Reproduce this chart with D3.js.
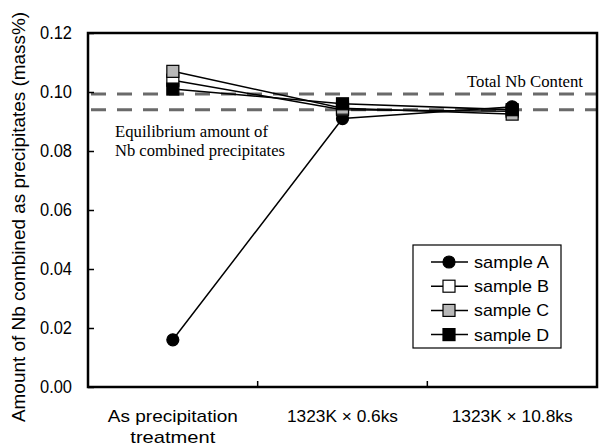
<!DOCTYPE html>
<html><head><meta charset="utf-8">
<script src="https://cdn.jsdelivr.net/npm/d3@7"></script>
<style>body{margin:0;background:#fff}</style>
</head><body>
<svg id="c" width="600" height="448"></svg>
<script>
const categories = ["As precipitation|treatment", "1323K × 0.6ks", "1323K × 10.8ks"];
const sampleA = [0.016, 0.091, 0.095];
const sampleB = [0.104, 0.094, 0.0935];
const sampleC = [0.107, 0.0945, 0.0925];
const sampleD = [0.101, 0.096, 0.094];
const seriesNames = ["sample A", "sample B", "sample C", "sample D"];
const yTicks = [0, 0.02, 0.04, 0.06, 0.08, 0.10, 0.12];
const totalNb = 0.0993;
const equilibriumNb = 0.094;

const series = [
  {name: seriesNames[0], values: sampleA, shape: "circle", fill: "#000"},
  {name: seriesNames[1], values: sampleB, shape: "square", fill: "#fff"},
  {name: seriesNames[2], values: sampleC, shape: "square", fill: "#b8b8b8"},
  {name: seriesNames[3], values: sampleD, shape: "square", fill: "#000"}
];

const sans = "Liberation Sans, Arial, sans-serif";
const serif = "Liberation Serif, Times New Roman, serif";
const svg = d3.select("#c");
const m = {l: 88, r: 597, t: 33, b: 387};
const x = d3.scaleBand().domain(d3.range(categories.length)).range([m.l, m.r]);
const y = d3.scaleLinear().domain([0, 0.12]).range([m.b, m.t]);
const cx = i => x(i) + x.bandwidth() / 2;

// dashed reference lines
[totalNb, equilibriumNb].forEach(v => {
  svg.append("line").attr("x1", m.l + 3).attr("x2", m.r).attr("y1", y(v)).attr("y2", y(v))
    .attr("stroke", "#6a6a6a").attr("stroke-width", 3).attr("stroke-dasharray", "15,11");
});

// y axis
const yAxis = d3.axisLeft(y).tickValues(yTicks).tickFormat(d3.format(".2f")).tickSizeInner(-6).tickSizeOuter(0).tickPadding(16);
const gy = svg.append("g").attr("transform", `translate(${m.l},0)`).call(yAxis);
gy.select(".domain").remove();
gy.selectAll("line").attr("stroke", "#000").attr("stroke-width", 1.5);
gy.selectAll("text").attr("font-family", sans).attr("font-size", 18).attr("fill", "#000")
  .attr("textLength", 32).attr("lengthAdjust", "spacingAndGlyphs");

// x tick marks at band borders (inward)
[1, 2].forEach(i => {
  svg.append("line").attr("x1", x(i)).attr("x2", x(i)).attr("y1", m.b).attr("y2", m.b - 6)
    .attr("stroke", "#000").attr("stroke-width", 1.5);
});
const catWidths = [[130, 85], [111], [121]];
categories.forEach((c, i) => {
  const parts = c.split("|");
  parts.forEach((p, k) => {
    svg.append("text").attr("x", cx(i)).attr("y", 422 + k * 21).attr("text-anchor", "middle")
      .attr("font-family", sans).attr("font-size", 17).attr("fill", "#000")
      .attr("textLength", catWidths[i][k]).attr("lengthAdjust", "spacingAndGlyphs").text(p);
  });
});

// frame
svg.append("rect").attr("x", m.l).attr("y", m.t).attr("width", m.r - m.l).attr("height", m.b - m.t)
  .attr("fill", "none").attr("stroke", "#000").attr("stroke-width", 2.5);

// y title
svg.append("text").attr("transform", `translate(25,${217}) rotate(-90)`)
  .attr("text-anchor", "middle").attr("font-family", sans)
  .attr("font-size", 17.5).attr("fill", "#000")
  .attr("textLength", 410).attr("lengthAdjust", "spacingAndGlyphs")
  .text("Amount of Nb combined as precipitates (mass%)");

// annotations
svg.append("text").attr("x", 467).attr("y", 87).attr("font-family", serif).attr("font-size", 17)
  .attr("textLength", 116).attr("lengthAdjust", "spacingAndGlyphs").text("Total Nb Content");
svg.append("text").attr("x", 115).attr("y", 137).attr("font-family", serif).attr("font-size", 17)
  .attr("textLength", 153).attr("lengthAdjust", "spacingAndGlyphs").text("Equilibrium amount of");
svg.append("text").attr("x", 115).attr("y", 156).attr("font-family", serif).attr("font-size", 17)
  .attr("textLength", 170).attr("lengthAdjust", "spacingAndGlyphs").text("Nb combined precipitates");

// lines
const line = d3.line().x((d, i) => cx(i)).y(d => y(d));
series.forEach(s => {
  svg.append("path").datum(s.values).attr("d", line).attr("fill", "none").attr("stroke", "#000").attr("stroke-width", 1.5);
});

function marker(g, s, px, py) {
  if (s.shape === "circle") {
    g.append("circle").attr("cx", px).attr("cy", py).attr("r", 6).attr("fill", s.fill).attr("stroke", "#000").attr("stroke-width", 1.2);
  } else {
    g.append("rect").attr("x", px - 6).attr("y", py - 6).attr("width", 12).attr("height", 12)
      .attr("fill", s.fill).attr("stroke", "#000").attr("stroke-width", 1.2);
  }
}
series.forEach(s => {
  s.values.forEach((v, i) => marker(svg, s, cx(i), y(v)));
});

// legend
const lg = svg.append("g");
lg.append("rect").attr("x", 413).attr("y", 245).attr("width", 148).attr("height", 103)
  .attr("fill", "#fff").attr("stroke", "#000").attr("stroke-width", 1.2);
series.forEach((s, k) => {
  const ly = 262 + k * 24.2;
  lg.append("line").attr("x1", 431).attr("x2", 468).attr("y1", ly).attr("y2", ly).attr("stroke", "#000").attr("stroke-width", 1.5);
  marker(lg, s, 449, ly);
  lg.append("text").attr("x", 474).attr("y", ly + 6).attr("font-family", sans)
    .attr("font-size", 17).attr("fill", "#000")
    .attr("textLength", 75).attr("lengthAdjust", "spacingAndGlyphs").text(s.name);
});
</script>
</body></html>
